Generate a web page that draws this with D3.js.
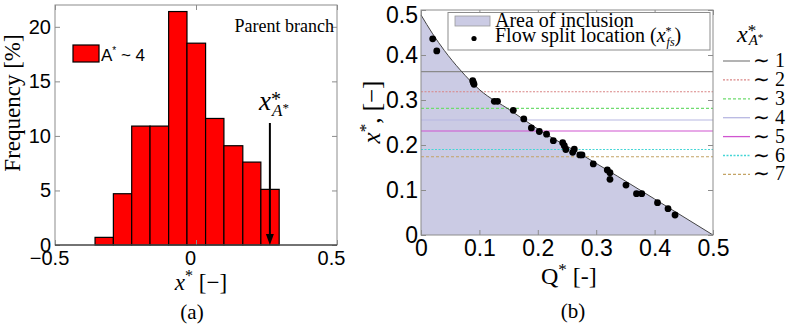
<!DOCTYPE html>
<html>
<head>
<meta charset="utf-8">
<script src="https://cdn.jsdelivr.net/npm/d3@7"></script>
<style>
    body { margin: 0; background: #fff; }
    svg { display: block; }
    .tick text { font-family: "Liberation Sans", Arial, sans-serif; fill: #000; }
    .serif { font-family: "Liberation Serif", "Times New Roman", serif; fill: #000; }
</style>
</head>
<body>
<div id="chart"></div>
<script>
// Histogram (a): bin edges of x* and frequency in %
const binEdges = [-0.358, -0.293, -0.228, -0.163, -0.097, -0.032, 0.034, 0.099, 0.166, 0.230, 0.295]
const freq = [0.7, 4.7, 10.9, 10.9, 21.4, 18.5, 11.6, 9.1, 7.6, 5.1]
const xAstar = 0.262
const histXTicks = [-0.5, 0, 0.5]
const histYTicks = [0, 5, 10, 15, 20]

// Panel (b): boundary of the area of inclusion
const curveQ = [0, 0.02, 0.04, 0.067, 0.101, 0.152, 0.204, 0.272, 0.4, 0.5]
const curveX = [0.489, 0.447, 0.41, 0.367, 0.322, 0.278, 0.232, 0.181, 0.08, 0]

// Flow split locations
const splitQ = [0.020, 0.027, 0.0885, 0.0896, 0.0908, 0.1255, 0.131, 0.158, 0.176, 0.189, 0.2026,
    0.215, 0.2266, 0.2426, 0.2454, 0.248, 0.2597, 0.2625, 0.272, 0.2757, 0.295, 0.319, 0.3236,
    0.3236, 0.351, 0.369, 0.378, 0.405, 0.423, 0.435]
const splitX = [0.436, 0.409, 0.343, 0.339, 0.335, 0.297, 0.297, 0.277, 0.258, 0.238, 0.230,
    0.224, 0.2096, 0.205, 0.1985, 0.190, 0.1837, 0.191, 0.178, 0.178, 0.158, 0.1444, 0.1385,
    0.1237, 0.111, 0.0919, 0.0919, 0.0719, 0.0585, 0.0444]

// x*_A* levels for A* ~ 1..7
const levelNames = ['1', '2', '3', '4', '5', '6', '7']
const levelValues = [0.363, 0.3185, 0.2815, 0.2556, 0.231, 0.190, 0.174]
const qTicks = [0, 0.1, 0.2, 0.3, 0.4, 0.5]

// line styles for levels
const levelColors = ['#8a8a8a', '#d98585', '#6fdc6f', '#b8b8e2', '#d055d0', '#45d6d6', '#c4a466']
const levelDash = [null, '2,1.5', '3,2', null, null, '2,1.5', '3,2']

const boxColor = '#8c8c8c'
const fillColor = '#cbcbe4'

const svg = d3.select('#chart').append('svg')
    .attr('width', 787)
    .attr('height', 324)

// ---------- Panel (a) ----------
const xL = d3.scaleLinear().domain([-0.5, 0.5]).range([55, 337])
const yL = d3.scaleLinear().domain([0, 22]).range([245, 5])

const gA = svg.append('g')

// Bars
gA.selectAll('rect.bar')
    .data(freq)
    .enter()
    .append('rect')
    .attr('class', 'bar')
    .attr('x', (d, i) => xL(binEdges[i]))
    .attr('y', d => yL(d))
    .attr('width', (d, i) => xL(binEdges[i + 1]) - xL(binEdges[i]))
    .attr('height', d => yL(0) - yL(d))
    .attr('fill', '#ff0000')
    .attr('stroke', '#000')
    .attr('stroke-width', 1.2)

// Axes (ticks inside, MATLAB style)
const axBottomA = gA.append('g')
    .attr('transform', `translate(0,${yL(0)})`)
    .call(d3.axisBottom(xL).tickValues(histXTicks).tickSize(-5).tickPadding(6).tickFormat(d3.format('')))
axBottomA.selectAll('text').attr('font-size', 20).attr('dx', -6)
gA.append('g')
    .attr('transform', `translate(0,${yL(22)})`)
    .call(d3.axisTop(xL).tickValues(histXTicks).tickSize(-5).tickFormat(''))
const axLeftA = gA.append('g')
    .attr('transform', `translate(${xL(-0.5)},0)`)
    .call(d3.axisLeft(yL).tickValues(histYTicks).tickSize(-5).tickPadding(4))
axLeftA.selectAll('text').attr('font-size', 20)
gA.append('g')
    .attr('transform', `translate(${xL(0.5)},0)`)
    .call(d3.axisRight(yL).tickValues(histYTicks).tickSize(-5).tickFormat(''))
gA.selectAll('.domain').remove()
gA.selectAll('.tick line').attr('stroke', boxColor)

// Box
gA.append('rect')
    .attr('x', xL(-0.5)).attr('y', yL(22))
    .attr('width', xL(0.5) - xL(-0.5)).attr('height', yL(0) - yL(22))
    .attr('fill', 'none').attr('stroke', boxColor)
gA.append('line')
    .attr('x1', xL(-0.5)).attr('x2', xL(0.5))
    .attr('y1', yL(0)).attr('y2', yL(0))
    .attr('stroke', '#222').attr('stroke-width', 1.2)

// Arrow at x*_A*
gA.append('line')
    .attr('x1', xL(xAstar)).attr('x2', xL(xAstar))
    .attr('y1', 123).attr('y2', yL(0) - 9)
    .attr('stroke', '#000').attr('stroke-width', 2)
gA.append('path')
    .attr('d', `M${xL(xAstar) - 4},${yL(0) - 11} L${xL(xAstar) + 4},${yL(0) - 11} L${xL(xAstar)},${yL(0)} Z`)
    .attr('fill', '#000')
const arrowLab = gA.append('text').attr('class', 'serif')
    .attr('x', 259).attr('y', 110).attr('font-size', 27)
arrowLab.append('tspan').attr('font-style', 'italic').text('x')
arrowLab.append('tspan').attr('font-size', 20).attr('dy', -4).text('*')
arrowLab.append('tspan').attr('font-size', 17).attr('font-style', 'italic').attr('dx', -9).attr('dy', 10).text('A')
arrowLab.append('tspan').attr('font-size', 13).attr('dy', -4).text('*')

// Legend
gA.append('rect')
    .attr('x', 73).attr('y', 45).attr('width', 26).attr('height', 17)
    .attr('fill', '#ff0000').attr('stroke', '#000').attr('stroke-width', 1.2)
const legA = gA.append('text')
    .attr('x', 101).attr('y', 61)
    .attr('font-family', '"Liberation Sans", Arial, sans-serif')
    .attr('font-size', 17)
legA.append('tspan').text('A')
legA.append('tspan').attr('font-size', 10).attr('dy', -7).text('*')
legA.append('tspan').attr('dy', 7).text(' ~ 4')

gA.append('text').attr('class', 'serif')
    .attr('x', 334).attr('y', 32).attr('text-anchor', 'end').attr('font-size', 18)
    .text('Parent branch')

// Axis labels
gA.append('text').attr('class', 'serif')
    .attr('transform', 'translate(20,103) rotate(-90)')
    .attr('text-anchor', 'middle').attr('font-size', 23)
    .text('Frequency [%]')
const xlabA = gA.append('text').attr('class', 'serif')
    .attr('x', 201).attr('y', 290).attr('text-anchor', 'middle').attr('font-size', 23)
xlabA.append('tspan').attr('font-style', 'italic').text('x')
xlabA.append('tspan').attr('font-size', 16).attr('dy', -9).text('*')
xlabA.append('tspan').attr('dy', 9).text(' [\u2212]')
gA.append('text').attr('class', 'serif')
    .attr('x', 192).attr('y', 319).attr('text-anchor', 'middle').attr('font-size', 21)
    .text('(a)')

// ---------- Panel (b) ----------
const xR = d3.scaleLinear().domain([0, 0.5]).range([421, 713])
const yR = d3.scaleLinear().domain([0, 0.5]).range([235, 10])

const gB = svg.append('g')
const curvePts = curveQ.map((q, i) => [q, curveX[i]])

// Area of inclusion
gB.append('path')
    .datum(curvePts)
    .attr('d', d3.area().x(d => xR(d[0])).y0(yR(0)).y1(d => yR(d[1])).curve(d3.curveMonotoneX))
    .attr('fill', fillColor)

// Level lines
gB.selectAll('line.level')
    .data(levelValues)
    .enter()
    .append('line')
    .attr('class', 'level')
    .attr('x1', xR(0)).attr('x2', xR(0.5))
    .attr('y1', d => yR(d)).attr('y2', d => yR(d))
    .attr('stroke', (d, i) => levelColors[i])
    .attr('stroke-dasharray', (d, i) => levelDash[i])
    .attr('stroke-width', 1.1)

// Boundary curve
gB.append('path')
    .datum(curvePts)
    .attr('d', d3.line().x(d => xR(d[0])).y(d => yR(d[1])).curve(d3.curveMonotoneX))
    .attr('fill', 'none').attr('stroke', '#444').attr('stroke-width', 1)

// Flow split points
gB.selectAll('circle.split')
    .data(splitQ)
    .enter()
    .append('circle')
    .attr('class', 'split')
    .attr('cx', d => xR(d))
    .attr('cy', (d, i) => yR(splitX[i]))
    .attr('r', 3.4)
    .attr('fill', '#000')

// Axes
const axBottomB = gB.append('g')
    .attr('transform', `translate(0,${yR(0)})`)
    .call(d3.axisBottom(xR).tickValues(qTicks).tickSize(-5).tickPadding(5).tickFormat(d3.format('')))
axBottomB.selectAll('text').attr('font-size', 23)
gB.append('g')
    .attr('transform', `translate(0,${yR(0.5)})`)
    .call(d3.axisTop(xR).tickValues(qTicks).tickSize(-5).tickFormat(''))
const axLeftB = gB.append('g')
    .attr('transform', `translate(${xR(0)},0)`)
    .call(d3.axisLeft(yR).tickValues(qTicks).tickSize(-5).tickPadding(3).tickFormat(d3.format('')))
axLeftB.selectAll('text').attr('font-size', 23)
axLeftB.selectAll('text').filter(d => d === 0.5).attr('dy', '0.55em')
gB.append('g')
    .attr('transform', `translate(${xR(0.5)},0)`)
    .call(d3.axisRight(yR).tickValues(qTicks).tickSize(-5).tickFormat(''))
gB.selectAll('.domain').remove()
gB.selectAll('.tick line').attr('stroke', boxColor)

gB.append('rect')
    .attr('x', xR(0)).attr('y', yR(0.5))
    .attr('width', xR(0.5) - xR(0)).attr('height', yR(0) - yR(0.5))
    .attr('fill', 'none').attr('stroke', boxColor)

// Inner legend
gB.append('rect')
    .attr('x', 448).attr('y', 12.5).attr('width', 262).attr('height', 37.5)
    .attr('fill', '#fff').attr('stroke', boxColor)
gB.append('rect')
    .attr('x', 455).attr('y', 16).attr('width', 35).attr('height', 10)
    .attr('fill', fillColor).attr('stroke', '#999').attr('stroke-width', 0.8)
gB.append('text').attr('class', 'serif')
    .attr('x', 495).attr('y', 27).attr('font-size', 20).text('Area of inclusion')
gB.append('circle').attr('cx', 474).attr('cy', 38.5).attr('r', 2.6).attr('fill', '#000')
const legFs = gB.append('text').attr('class', 'serif')
    .attr('x', 495).attr('y', 42).attr('font-size', 20)
legFs.append('tspan').text('Flow split location (')
legFs.append('tspan').attr('font-style', 'italic').text('x')
legFs.append('tspan').attr('font-size', 12).attr('dy', -7).text('*')
legFs.append('tspan').attr('font-size', 12).attr('font-style', 'italic').attr('dx', -5).attr('dy', 11).text('fs')
legFs.append('tspan').attr('dy', -4).text(')')

// Outer legend of levels
const legHead = gB.append('text').attr('class', 'serif')
    .attr('x', 737).attr('y', 42).attr('font-size', 24)
legHead.append('tspan').attr('font-style', 'italic').text('x')
legHead.append('tspan').attr('font-size', 17).attr('dy', -6).text('*')
legHead.append('tspan').attr('font-size', 15).attr('font-style', 'italic').attr('dx', -7.5).attr('dy', 9).text('A')
legHead.append('tspan').attr('font-size', 11).attr('dy', -4).text('*')

const rowY = i => 61 + i * 18.9
gB.selectAll('line.legLevel')
    .data(levelNames)
    .enter()
    .append('line')
    .attr('class', 'legLevel')
    .attr('x1', 723).attr('x2', 750)
    .attr('y1', (d, i) => rowY(i)).attr('y2', (d, i) => rowY(i))
    .attr('stroke', (d, i) => levelColors[i])
    .attr('stroke-dasharray', (d, i) => levelDash[i])
    .attr('stroke-width', 1.3)
gB.selectAll('text.legLevel')
    .data(levelNames)
    .enter()
    .append('text')
    .attr('class', 'legLevel serif')
    .attr('x', 753).attr('y', (d, i) => rowY(i) + 6)
    .attr('font-size', 20)
    .text(d => `\u223C ${d}`)

// Axis labels
const ylabB = gB.append('text').attr('class', 'serif')
    .attr('transform', 'translate(380,112) rotate(-90)')
    .attr('text-anchor', 'middle').attr('font-size', 25)
ylabB.append('tspan').attr('font-style', 'italic').text('x')
ylabB.append('tspan').attr('font-size', 17).attr('dy', -9).text('*')
ylabB.append('tspan').attr('dy', 9).text(', [\u2212]')

const xlabB = gB.append('text').attr('class', 'serif')
    .attr('x', 541).attr('y', 284).attr('font-size', 24)
xlabB.append('tspan').text('Q')
xlabB.append('tspan').attr('font-size', 17).attr('dy', -9).text('*')
xlabB.append('tspan').attr('dy', 9).text(' [-]')
gB.append('text').attr('class', 'serif')
    .attr('x', 573).attr('y', 318).attr('text-anchor', 'middle').attr('font-size', 21)
    .text('(b)')
</script>
</body>
</html>
